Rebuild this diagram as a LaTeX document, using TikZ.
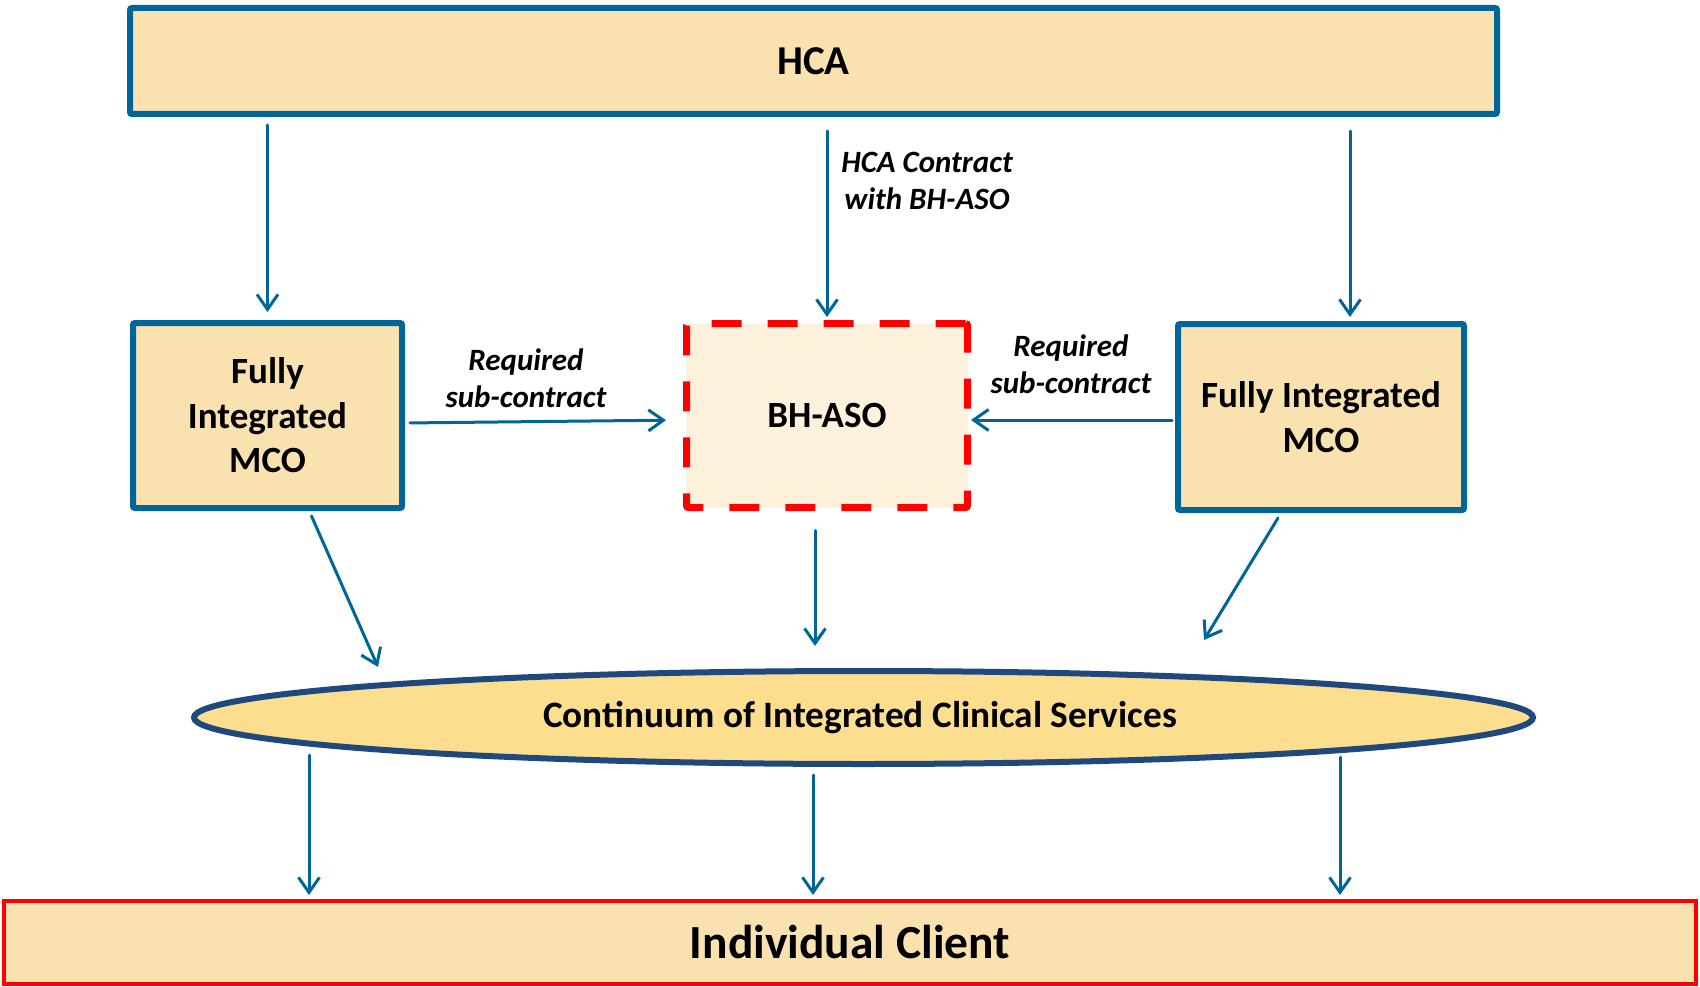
\documentclass[tikz,border=0pt]{standalone}
\usepackage{fontspec}
\setmainfont{Carlito}
\usetikzlibrary{arrows.meta,shapes.geometric}
\definecolor{hblue}{RGB}{0,102,153}
\definecolor{boxfill}{RGB}{249,226,176}
\definecolor{asofill}{RGB}{254,241,220}
\definecolor{ellfill}{RGB}{253,221,142}
\definecolor{ellline}{RGB}{31,73,125}
\definecolor{cred}{RGB}{255,0,0}
\begin{document}
\begin{tikzpicture}[x=1pt,y=-1pt,
  bluebox/.style={draw=hblue, line width=6pt, fill=boxfill, rounded corners=2pt,
    inner sep=0pt, align=center, font=\bfseries\fontsize{37}{44.5}\selectfont},
  asobox/.style={draw=cred, line width=7pt, dash pattern=on 30pt off 26pt,
    fill=asofill, rounded corners=2pt, inner sep=0pt, align=center,
    font=\bfseries\fontsize{37}{44.5}\selectfont},
  ellbox/.style={ellipse, draw=ellline, line width=6pt, fill=ellfill, inner sep=0pt,
    font=\bfseries\fontsize{37.3}{44}\selectfont},
  clientbox/.style={draw=cred, line width=4pt, fill=boxfill, inner sep=0pt,
    font=\bfseries\fontsize{47.5}{56}\selectfont},
  lbl/.style={font=\bfseries\itshape\fontsize{31}{37}\selectfont, align=center, inner sep=0pt},
  arr/.style={draw=hblue, line width=3pt, line cap=round, line join=round,
    -{Straight Barb[length=15pt,width=21pt]}}
]
\useasboundingbox (0,0) rectangle (1700,987);

% nodes
\node[bluebox, minimum width=1367pt, minimum height=106pt,
  font=\bfseries\fontsize{41}{49}\selectfont] (hca) at (813.5,61) {HCA};
\node[bluebox, minimum width=269pt, minimum height=185pt] (mcoL) at (267.5,415.5) {Fully\\Integrated\\MCO};
\node[asobox, minimum width=281pt, minimum height=184pt] (aso) at (827,415.5) {BH-ASO};
\node[bluebox, minimum width=286pt, minimum height=186pt] (mcoR) at (1321,417) {Fully Integrated\\MCO};
\node[ellbox, minimum width=1339pt, minimum height=93pt] (ell) at (863.5,717.5) {\raisebox{-2pt}{Continuum of Integrated Clinical Services}\hspace*{7pt}};
\node[clientbox, minimum width=1692pt, minimum height=83pt] (client) at (850,942.5) {Individual Client};

% labels
\node[lbl] (lblhca) at (927,181) {HCA Contract\\with BH-ASO};
\node[lbl] (lblL) at (526,378) {Required\\sub-contract};
\node[lbl] (lblR) at (1071,364.5) {Required\\sub-contract};

% helper coordinates
\coordinate (r3) at ([xshift=29pt]mcoR.north);
\coordinate (m8) at ([xshift=-12pt]aso.south);
\coordinate (e1) at (378,667);
\coordinate (e3) at (1204,640);
\coordinate (s10) at (309,755);
\coordinate (s11) at (813,775);
\coordinate (s12) at (1340,757);

% connectors
\draw[arr, shorten <=8pt, shorten >=8pt] (hca.south -| mcoL.north) -- (mcoL.north);
\draw[arr, shorten <=14pt, shorten >=3pt] (hca.south -| aso.north) -- (aso.north);
\draw[arr, shorten <=14pt, shorten >=4pt] (hca.south -| r3) -- (r3);
\draw[arr, shorten <=5pt, shorten >=17pt] ([yshift=-7.5pt]mcoL.east) -- ([yshift=-4.5pt]aso.west);
\draw[arr, shorten <=3pt] ([yshift=-3pt]mcoR.west) -- ([yshift=-4.5pt]aso.east);
\draw[arr] ([xshift=44pt,yshift=-5pt]mcoL.south) -- (e1);
\draw[arr, shorten <=19.5pt, shorten >=22pt] (m8) -- (ell.north -| m8);
\draw[arr] ([xshift=-43pt,yshift=-5pt]mcoR.south) -- (e3);
\draw[arr, shorten >=4pt] (s10) -- (client.north -| s10);
\draw[arr, shorten >=4pt] (s11) -- (client.north -| s11);
\draw[arr, shorten >=4pt] (s12) -- (client.north -| s12);
\end{tikzpicture}
\end{document}
